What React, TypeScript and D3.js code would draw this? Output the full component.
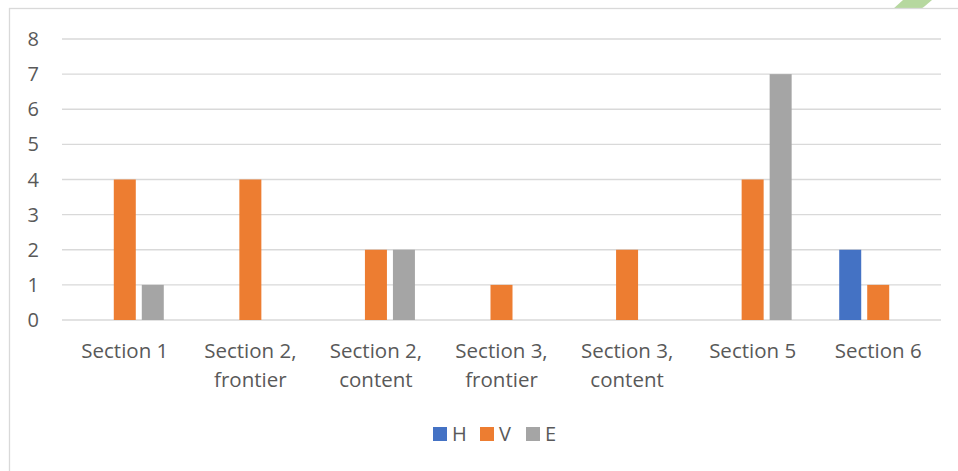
import React from "react";
import * as d3 from "d3";

const categories: string[][] = [
  ["Section 1"],
  ["Section 2,", "frontier"],
  ["Section 2,", "content"],
  ["Section 3,", "frontier"],
  ["Section 3,", "content"],
  ["Section 5"],
  ["Section 6"],
];
const seriesNames = ["H", "V", "E"];
const hValues = [0, 0, 0, 0, 0, 0, 2];
const vValues = [4, 4, 2, 1, 2, 4, 1];
const eValues = [1, 0, 2, 0, 0, 7, 0];
const yTicks = [0, 1, 2, 3, 4, 5, 6, 7, 8];
const colors = ["#4472C4", "#ED7D31", "#A5A5A5"];

const W = 958;
const H = 471;
const FONT = "'Open Sans', sans-serif";
const TEXT = "#595959";
const BAR_W = 22;
const BAR_STEP = 28;

export default function App() {
  const series = [hValues, vValues, eValues];
  const x = d3
    .scaleBand<number>()
    .domain(d3.range(categories.length))
    .range([62, 941]);
  const y = d3.scaleLinear().domain([0, 8]).range([320, 39]);
  // series slot within a category, centred on the category midpoint
  const slot = d3
    .scalePoint<number>()
    .domain([0, 1, 2])
    .range([-BAR_STEP, BAR_STEP]);
  const mid = (ci: number) => (x(ci) as number) + x.bandwidth() / 2;

  const legendX = [433, 480, 526];

  return (
    <svg
      width={W}
      height={H}
      style={{ position: "absolute", left: 0, top: 0, background: "#fff" }}
    >
      <rect x={0} y={0} width={W} height={H} fill="#fff" />
      {/* light green corner tab */}
      <polygon
        points="893,9 903,0 932,0 925,6 921,9"
        fill="#a9d18e"
        opacity={0.85}
      />
      {/* chart area frame */}
      <rect
        x={9.5}
        y={8.5}
        width={W + 10}
        height={H + 10}
        fill="none"
        stroke="#d9d9d9"
        strokeWidth={1.3}
      />
      {yTicks.map((t) => (
        <g key={t}>
          <line
            x1={62}
            x2={941}
            y1={y(t)}
            y2={y(t)}
            stroke="#d9d9d9"
            strokeWidth={1.3}
          />
          <text
            x={39}
            y={y(t)}
            dy="0.35em"
            textAnchor="end"
            fontFamily={FONT}
            fontSize={20}
            fill={TEXT}
          >
            {t}
          </text>
        </g>
      ))}
      {series.map((vals, si) =>
        vals.map((v, ci) =>
          v > 0 ? (
            <rect
              key={`${si}-${ci}`}
              x={mid(ci) + (slot(si) as number) - BAR_W / 2}
              width={BAR_W}
              y={y(v)}
              height={y(0) - y(v)}
              fill={colors[si]}
            />
          ) : null
        )
      )}
      {categories.map((lines, ci) => (
        <text
          key={ci}
          x={mid(ci)}
          textAnchor="middle"
          fontFamily={FONT}
          fontSize={20.5}
          fill={TEXT}
        >
          {lines.map((l, li) => (
            <tspan key={li} x={mid(ci)} y={358 + li * 29}>
              {l}
            </tspan>
          ))}
        </text>
      ))}
      {seriesNames.map((n, i) => (
        <g key={n}>
          <rect x={legendX[i]} y={427} width={14} height={14} fill={colors[i]} />
          <text
            x={legendX[i] + 19}
            y={434}
            dy="0.36em"
            fontFamily={FONT}
            fontSize={20}
            fill={TEXT}
          >
            {n}
          </text>
        </g>
      ))}
    </svg>
  );
}
